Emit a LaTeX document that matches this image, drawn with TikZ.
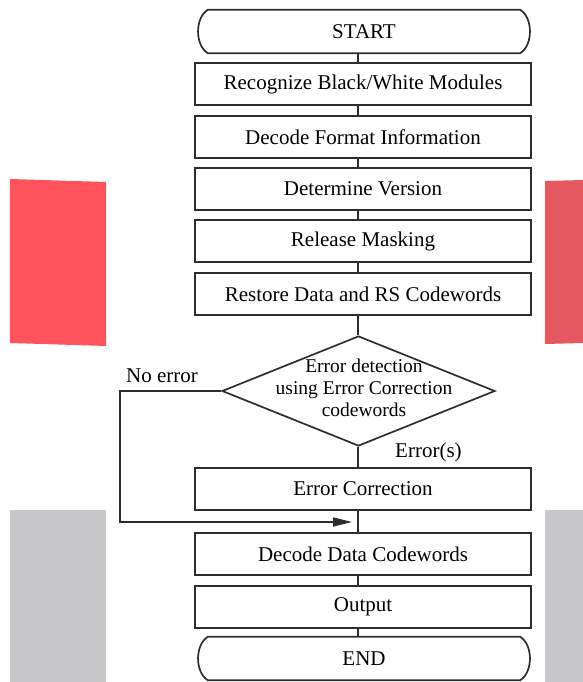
\documentclass[tikz,border=0pt]{standalone}
\usepackage{fontspec}
\setmainfont{Liberation Serif}
\usepackage{xcolor}
\usetikzlibrary{shapes.geometric,arrows.meta}
\definecolor{slidered}{RGB}{254,82,92}
\definecolor{slidereddark}{RGB}{229,88,95}
\definecolor{slidegray}{RGB}{200,200,202}
\definecolor{inkline}{RGB}{45,45,45}
\newcommand{\boxfont}{\fontsize{21}{25}\selectfont}
\newcommand{\diafont}{\fontsize{19.5}{22}\selectfont}
\newcommand{\termframe}[1]{%
  \draw[inkframe] (#1.north west) -- (#1.north east)
    .. controls +(13,8) and +(13,-8) .. (#1.south east)
    -- (#1.south west)
    .. controls +(-13,-8) and +(-13,8) .. (#1.north west) -- cycle;}

\begin{document}
\begin{tikzpicture}[x=1pt, y=-1pt,
    inkframe/.style={line width=1.7pt, draw=inkline},
    stepbox/.style={rectangle, inkframe, minimum width=336pt, minimum height=42pt,
        inner sep=0pt, font=\boxfont, text=black},
    terminal/.style={rectangle, minimum width=312pt, minimum height=43pt,
        inner sep=0pt, font=\boxfont, text=black},
    decision/.style={diamond, inkframe, minimum width=273pt, minimum height=110pt,
        inner sep=0pt},
    diatext/.style={align=center, font=\diafont, text=black, inner sep=0pt},
    lbl/.style={font=\boxfont, text=black, inner sep=0pt},
    flow/.style={line width=1.7pt, draw=inkline}]
    \useasboundingbox (0,0) rectangle (583,682);

    % Slide background patches
    \fill[slidered] (10,179) -- (106,182) -- (106,346) -- (10,343) -- cycle;
    \fill[slidereddark] (545,181) -- (583,180) -- (583,343) -- (545,344) -- cycle;
    \fill[slidegray] (10,510) rectangle (106,682);
    \fill[slidegray] (545,510) rectangle (583,682);

    % Decoding steps
    \node[terminal] (st) at (364,31.5) {START};
    \node[stepbox] (rec) at (363,84) {Recognize Black/White Modules};
    \node[stepbox] (dfi) at (363,137) {Decode Format Information};
    \node[stepbox] (dv) at (363,189) {Determine Version};
    \node[stepbox] (rm) at (363,241) {Release Masking};
    \node[stepbox] (rd) at (363,294) {Restore Data and RS Codewords};

    % Error check
    \node[decision] (chk) at (358.5,391) {};
    \node[diatext] (chktxt) at (364,388) {Error detection\\using Error Correction\\codewords};

    \node[stepbox] (ec) at (363,489) {Error Correction};
    \node[stepbox] (dd) at (363,554) {Decode Data Codewords};
    \node[stepbox] (out) at (363,607) {Output};
    \node[terminal] (en) at (364,658.5) {END};

    % Rounded ends
    \termframe{st}
    \termframe{en}

    % Main flow
    \coordinate (axis) at (358,0);
    \foreach \a/\b in {st/rec,rec/dfi,dfi/dv,dv/rm,rm/rd,rd/chk,chk/ec,ec/dd,dd/out,out/en}
        \draw[flow] (\a.south -| axis) -- (\b.north -| axis);

    % Bypass when no error
    \coordinate (loopturn) at (120,391);
    \coordinate (merge) at (352,522);
    \draw[flow, -{Triangle[length=19pt, width=9pt]}] (chk.west) -- (loopturn) |- (merge);
    \node[lbl, anchor=base west] (noerr) at (126,382) {No error};
    \node[lbl, anchor=base west] (errs) at (395,457) {Error(s)};
\end{tikzpicture}
\end{document}
